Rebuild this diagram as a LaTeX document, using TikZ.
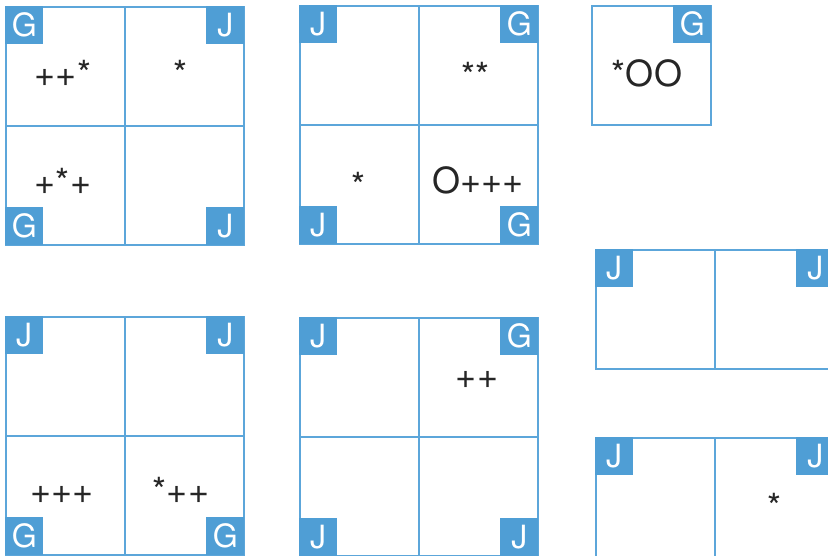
\documentclass[tikz,border=0pt]{standalone}
\usepackage{fontspec}
\setmainfont{TeX Gyre Heros}
\usetikzlibrary{positioning}
\definecolor{tagblue}{RGB}{79,158,213}
\definecolor{lineblue}{RGB}{92,166,218}

\begin{document}
\begin{tikzpicture}[x=1pt, y=-1pt,
    cell/.style={draw=lineblue, line width=1.5pt, minimum size=119pt,
                 inner sep=0pt, anchor=north west},
    tag/.style={fill=tagblue, text=white, minimum size=38pt, inner sep=0pt,
                font=\fontsize{32}{32}\selectfont},
    sym/.style={anchor=base, inner sep=0pt, text=black!85,
                font=\fontsize{36}{36}\selectfont},
  ]
  \clip (0,0) rectangle (828,555);
  % cells
  \foreach \c/\x/\y in {g1a/5/6, g1b/124/6, g1c/5/125, g1d/124/125,
                        g2a/299/5, g2b/418/5, g2c/299/124, g2d/418/124,
                        b1/591/5,
                        g3a/595/249, g3b/714/249,
                        g4a/595/437, g4b/714/437,
                        g5a/5/316, g5b/124/316, g5c/5/435, g5d/124/435,
                        g6a/299/317, g6b/418/317, g6c/299/436, g6d/418/436} {
    \node[cell] (\c) at (\x,\y) {};
  }
  % corner tags
  \foreach \c/\corner/\l in {g1a/north west/G, g1b/north east/J, g1c/south west/G, g1d/south east/J,
                             g2a/north west/J, g2b/north east/G, g2c/south west/J, g2d/south east/G,
                             b1/north east/G,
                             g3a/north west/J, g3b/north east/J,
                             g4a/north west/J, g4b/north east/J,
                             g5a/north west/J, g5b/north east/J, g5c/south west/G, g5d/south east/G,
                             g6a/north west/J, g6b/north east/G, g6c/south west/J, g6d/south east/J} {
    \node[tag, anchor=\corner] (t-\c) at (\c.\corner) {\l};
  }
  % contents
  \foreach \n/\x/\y/\t in {s1/63/86/++*, s2/181/86/*, s3/63/194/+*+,
                           s4/475/88/**, s5/358/198/*, s6/478/193/O+++,
                           s7/647/86/*OO, s8/62/503/+++, s9/181/503/*++,
                           s10/477/388/++, s11/774/519/*} {
    \node[sym] (\n) at (\x,\y) {\t};
  }
\end{tikzpicture}
\end{document}
